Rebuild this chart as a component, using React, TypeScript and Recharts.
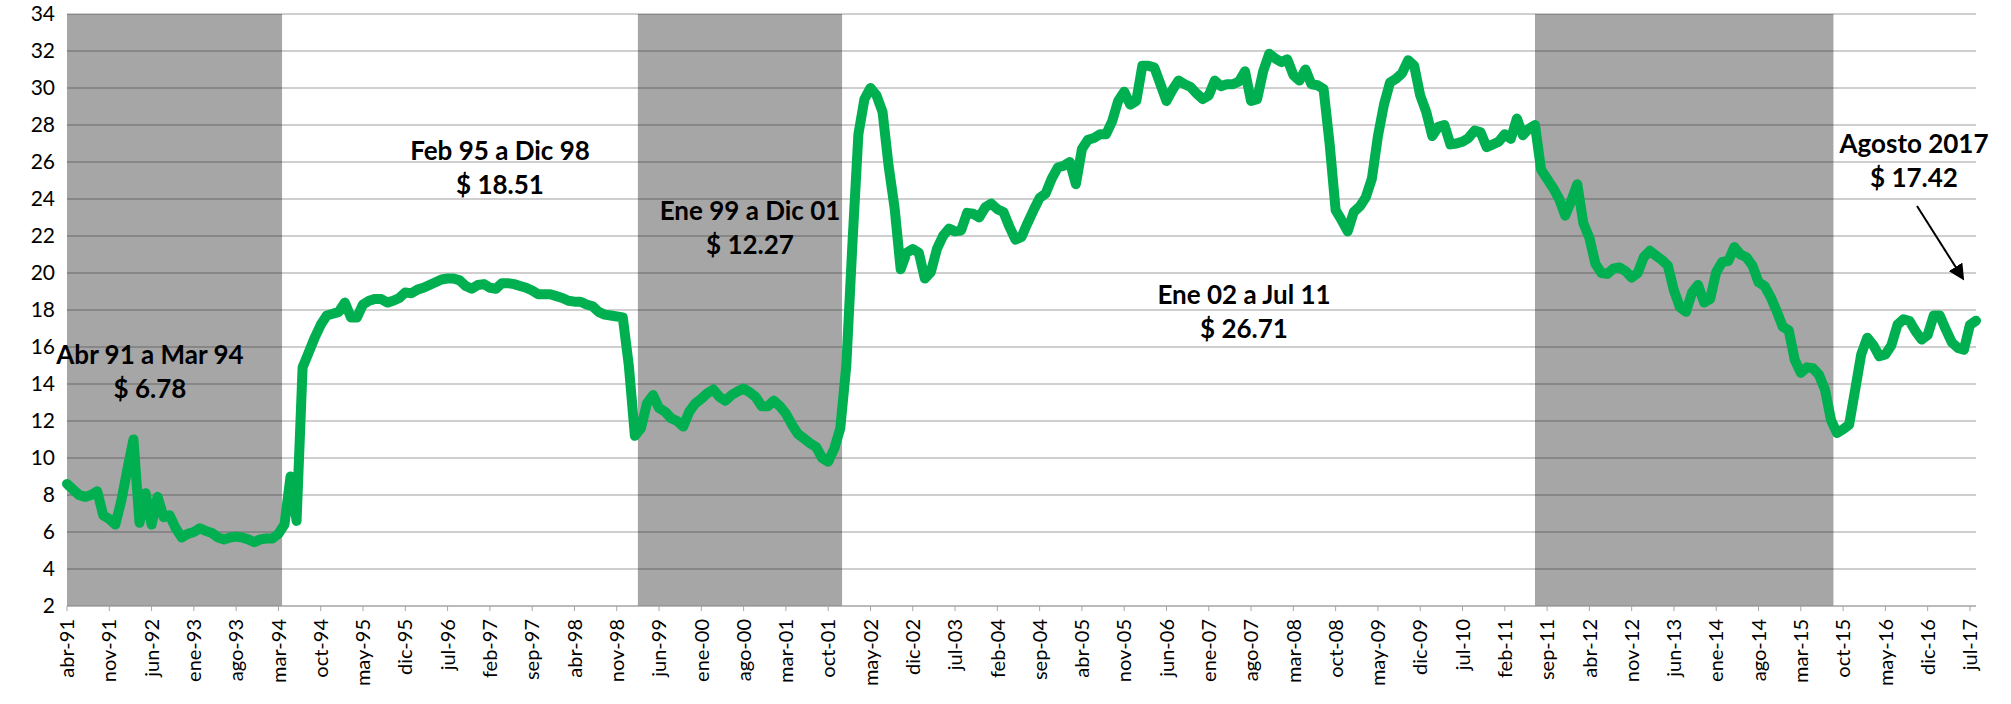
import React from "react";
import { LineChart, Line, XAxis, YAxis, CartesianGrid, ReferenceArea } from "recharts";

// tick labels, one every 7 months starting abr-91
const tickLabels = [
  "abr-91", "nov-91", "jun-92", "ene-93", "ago-93", "mar-94", "oct-94", "may-95", "dic-95", "jul-96",
  "feb-97", "sep-97", "abr-98", "nov-98", "jun-99", "ene-00", "ago-00", "mar-01", "oct-01", "may-02",
  "dic-02", "jul-03", "feb-04", "sep-04", "abr-05", "nov-05", "jun-06", "ene-07", "ago-07", "mar-08",
  "oct-08", "may-09", "dic-09", "jul-10", "feb-11", "sep-11", "abr-12", "nov-12", "jun-13", "ene-14",
  "ago-14", "mar-15", "oct-15", "may-16", "dic-16", "jul-17",
];

// monthly values, abr-91 .. mar-94
const vals9194 = [
  8.6, 8.3, 8.0, 7.9, 8.0, 8.2, 6.9, 6.7, 6.4, 7.7, 9.4, 11.0,
  6.5, 8.1, 6.4, 7.9, 6.8, 6.9, 6.2, 5.7, 5.9, 6.0, 6.2, 6.05,
  5.95, 5.7, 5.6, 5.7, 5.75, 5.7, 5.6, 5.45, 5.6, 5.65, 5.65, 5.9,
];
// abr-94 .. dic-98
const vals9498 = [
  6.4, 9.0, 6.6, 14.9, 15.7, 16.5, 17.2, 17.7, 17.8, 17.9, 18.4, 17.6,
  17.6, 18.3, 18.5, 18.6, 18.6, 18.4, 18.5, 18.65, 18.95, 18.9, 19.1, 19.2,
  19.35, 19.5, 19.65, 19.7, 19.7, 19.6, 19.3, 19.15, 19.35, 19.4, 19.2, 19.15,
  19.45, 19.45, 19.4, 19.3, 19.2, 19.05, 18.85, 18.85, 18.85, 18.75, 18.65, 18.5,
  18.45, 18.45, 18.3, 18.2, 17.9, 17.75, 17.7, 17.65, 17.6,
];
// ene-99 .. dic-01
const vals9901 = [
  15.0, 11.2, 11.6, 12.95, 13.4, 12.7, 12.5, 12.15, 12.0, 11.7, 12.5, 12.95,
  13.2, 13.5, 13.7, 13.3, 13.1, 13.4, 13.6, 13.75, 13.55, 13.3, 12.8, 12.8,
  13.1, 12.8, 12.4, 11.8, 11.3, 11.05, 10.8, 10.6, 10.0, 9.8, 10.5, 11.6,
];
// ene-02 .. jul-11
const vals0211 = [
  15.0, 21.5, 27.5, 29.4, 30.0, 29.6, 28.7, 25.8, 23.5, 20.2, 21.1, 21.3,
  21.1, 19.7, 20.05, 21.3, 22.0, 22.4, 22.25, 22.3, 23.25, 23.2, 23.0, 23.55,
  23.75, 23.45, 23.3, 22.5, 21.8, 21.95, 22.7, 23.4, 24.05, 24.3, 25.1, 25.7,
  25.8, 26.0, 24.8, 26.7, 27.2, 27.3, 27.5, 27.5, 28.2, 29.3, 29.8, 29.1,
  29.3, 31.2, 31.2, 31.1, 30.2, 29.3, 29.9, 30.4, 30.2, 30.05, 29.7, 29.4,
  29.6, 30.4, 30.1, 30.2, 30.2, 30.35, 30.9, 29.3, 29.4, 30.9, 31.85, 31.6,
  31.4, 31.55, 30.7, 30.4, 31.0, 30.2, 30.15, 29.95, 27.0, 23.4, 22.85, 22.25,
  23.3, 23.6, 24.1, 25.1, 27.4, 29.1, 30.3, 30.5, 30.8, 31.5, 31.2, 29.6,
  28.7, 27.4, 27.9, 28.0, 26.95, 27.0, 27.1, 27.3, 27.7, 27.6, 26.8, 26.95,
  27.1, 27.5, 27.25, 28.35, 27.45, 27.8, 28.0,
];
// ago-11 .. ago-17
const vals1117 = [
  25.6, 25.1, 24.6, 24.0, 23.1, 23.9, 24.8, 22.7, 21.9, 20.5, 20.0, 19.95,
  20.25, 20.3, 20.1, 19.75, 20.0, 20.85, 21.2, 20.95, 20.7, 20.4, 19.05, 18.15,
  17.9, 18.95, 19.35, 18.4, 18.6, 20.05, 20.6, 20.65, 21.4, 21.0, 20.85, 20.4,
  19.5, 19.3, 18.7, 17.95, 17.1, 16.9, 15.3, 14.6, 14.9, 14.85, 14.5, 13.7,
  12.05, 11.35, 11.55, 11.8, 13.7, 15.6, 16.5, 16.1, 15.5, 15.6, 16.1, 17.2,
  17.5, 17.4, 16.85, 16.4, 16.65, 17.7, 17.7, 16.95, 16.25, 15.95, 15.85, 17.2,
  17.42,
];

// shaded periods, in month index from abr-91
const periods = [
  [0, 35.6],
  [94.5, 128.3],
  [243, 292.4],
];

const noteLines = [
  ["Abr 91 a Mar 94", "$ 6.78"],
  ["Feb 95 a Dic 98", "$ 18.51"],
  ["Ene 99 a Dic 01", "$ 12.27"],
  ["Ene 02 a Jul 11", "$ 26.71"],
  ["Agosto 2017", "$ 17.42"],
];

const yTicks = [2, 4, 6, 8, 10, 12, 14, 16, 18, 20, 22, 24, 26, 28, 30, 32, 34];

const values = [...vals9194, ...vals9498, ...vals9901, ...vals0211, ...vals1117];
const data = values.map((v, i) => ({ i, v }));
const xTicks = tickLabels.map((_, k) => k * 7);

const font = "Lato, 'Liberation Sans', sans-serif";

const XTick = (props: any) => {
  const { x, y, payload } = props;
  const ty = y + 6;
  return (
    <text
      x={x}
      y={ty}
      transform={`rotate(-90, ${x}, ${ty})`}
      textAnchor="end"
      dy="0.36em"
      fontSize={20}
      fontFamily={font}
      fill="#000"
    >
      {tickLabels[Math.round(payload.value / 7)]}
    </text>
  );
};

const notePos = [
  [150, 354],
  [500, 150],
  [750, 210],
  [1244, 294],
  [1914, 143],
];

const App = () => (
  <div style={{ position: "absolute", left: 0, top: 0, width: 2011, height: 704, background: "#fff" }}>
    <LineChart
      width={2011}
      height={704}
      data={data}
      margin={{ top: 14, right: 35, left: 0, bottom: 0 }}
    >
      <CartesianGrid vertical={false} stroke="#000" strokeOpacity={0.25} strokeWidth={1.5} />
      {periods.map(([a, b], k) => (
        <ReferenceArea key={k} x1={a} x2={b} fill="#000" fillOpacity={0.35} stroke="none" />
      ))}
      <XAxis
        dataKey="i"
        type="number"
        domain={[0, 316]}
        ticks={xTicks}
        interval={0}
        height={98}
        tick={<XTick />}
        tickSize={5}
        tickMargin={2}
        stroke="#a6a6a6"
        tickLine={{ stroke: "#a6a6a6" }}
      />
      <YAxis
        type="number"
        domain={[2, 34]}
        ticks={yTicks}
        interval={0}
        width={67}
        axisLine={false}
        tickLine={false}
        tickSize={0}
        tickMargin={12}
        tick={{ fontSize: 21, fontFamily: font, fill: "#000" }}
      />
      <Line
        type="linear"
        dataKey="v"
        stroke="#00b050"
        strokeWidth={10}
        strokeLinejoin="round"
        strokeLinecap="round"
        dot={false}
        isAnimationActive={false}
      />
    </LineChart>
    <svg
      width={2011}
      height={704}
      style={{ position: "absolute", left: 0, top: 0, pointerEvents: "none" }}
    >
      <defs>
        <marker id="arrowHead" markerWidth="8" markerHeight="8" refX="6" refY="4" orient="auto" markerUnits="strokeWidth">
          <path d="M0,0 L8,4 L0,8 z" fill="#000" />
        </marker>
      </defs>
      {noteLines.map((lines, k) => (
        <g key={k}>
          {lines.map((t, j) => (
            <text
              key={j}
              x={notePos[k][0]}
              y={notePos[k][1] + j * 34}
              textAnchor="middle"
              dominantBaseline="central"
              fontSize={26}
              fontWeight="bold"
              fontFamily={font}
              fill="#000"
            >
              {t}
            </text>
          ))}
        </g>
      ))}
      <line x1={1917} y1={206} x2={1962} y2={277} stroke="#000" strokeWidth={2} markerEnd="url(#arrowHead)" />
    </svg>
  </div>
);

export default App;
